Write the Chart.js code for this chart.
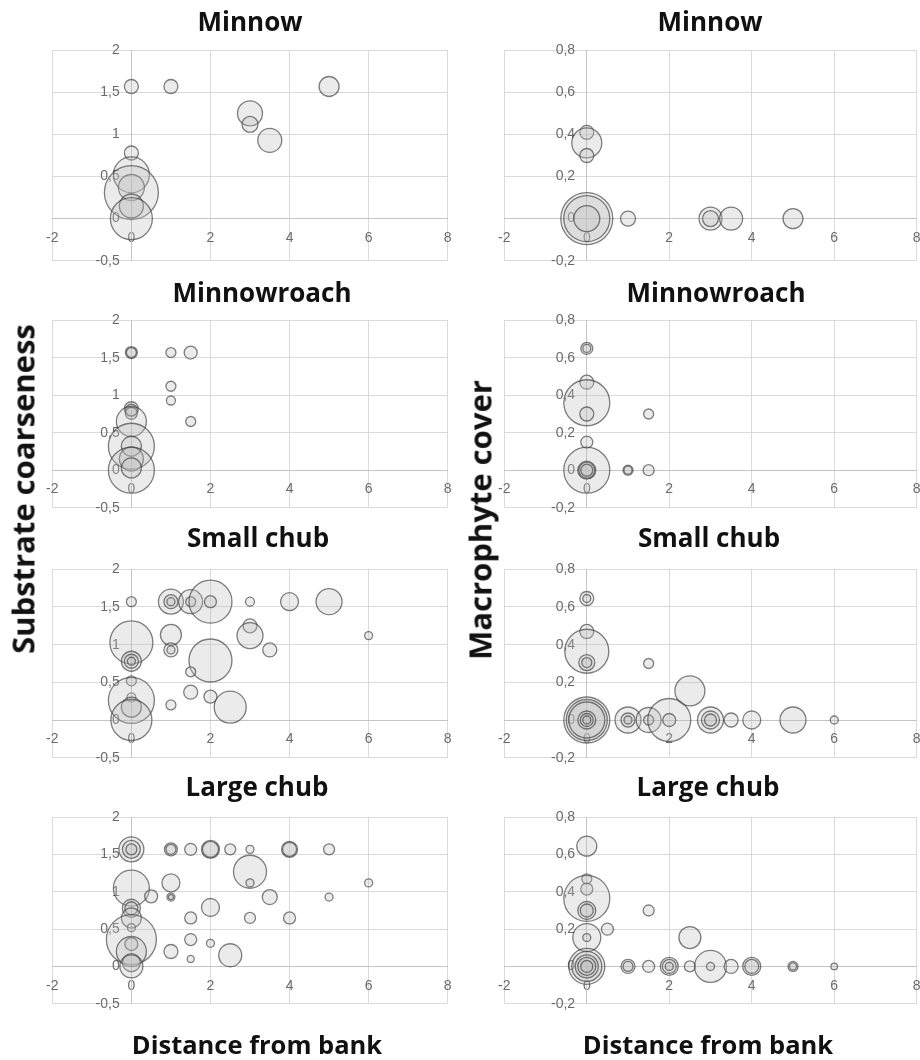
<!DOCTYPE html>
<html>
<head>
<meta charset="utf-8">
<script src="https://cdn.jsdelivr.net/npm/chart.js@4.4.1/dist/chart.umd.min.js"></script>
<style>
  body { margin: 0; background: #fff; }
  #fig { position: relative; width: 920px; height: 1060px; overflow: hidden; font-family: 'Open Sans', sans-serif; }
  .t { position: absolute; font-weight: 700; color: #111; white-space: nowrap; line-height: 1; }
  canvas { position: absolute; }
</style>
</head>
<body>
<div id="fig"></div>
<script>
const xTicks = [-2, 0, 2, 4, 6, 8];
const substrateTicks = [-0.5, 0, 0.5, 1, 1.5, 2];
const macroTicks = [-0.2, 0, 0.2, 0.4, 0.6, 0.8];
const species = ['Minnow', 'Minnowroach', 'Small chub', 'Large chub'];

// each point: [distance from bank, habitat value, bubble radius]
const minnowSubstrate = [[0,1.57,7],[1,1.57,7],[5,1.57,10],[3,1.25,12.5],[3,1.12,8],[3.5,0.93,12],
  [0,0.78,7],[0,0.52,18],[0,0.37,13],[0,0.31,27],[0,0.15,12],[0,0,21]];
const minnowMacro = [[0,0.41,7],[0,0.36,15],[0,0.3,7],[0,0,26],[0,0,23],[0,0,13],
  [1,0,7.5],[3,0,11.5],[3,0,8],[3.5,0,11.5],[5,0,10]];

const minnowroachSubstrate = [[0,1.57,6],[0,1.57,5],[1,1.57,5],[1.5,1.57,6.5],[1,1.12,5],[1,0.93,4.5],
  [1.5,0.65,5],[0,0.82,7],[0,0.8,6],[0,0.76,6],[0,0.65,15],[0,0.32,23],[0,0.32,10],[0,0.15,12],
  [0,0,23],[0,0.03,10]];
const minnowroachMacro = [[0,0.65,6],[0,0.65,4],[0,0.47,7],[0,0.36,23],[0,0.3,7],[1.5,0.3,5],[0,0.15,6],
  [0,0,23],[0,0,9],[0,0,8],[0,0,6],[1,0,5],[1,0,4],[1.5,0,5.5]];

const smallChubSubstrate = [[0,1.57,5],[1,1.57,12.5],[1,1.57,7],[1,1.57,4],[1.5,1.57,12],[1.5,1.57,5],
  [2,1.57,21.5],[2,1.57,6],[3,1.57,4.5],[4,1.57,9],[5,1.57,13],[0,1.03,21.5],[1,1.13,10.5],[1,0.93,7],
  [1,0.93,4],[3,1.25,7],[3,1.12,13],[3.5,0.93,7],[6,1.12,4],[2,0.79,21.5],[1.5,0.64,5],[0,0.78,10],
  [0,0.78,7],[0,0.78,4],[1.5,0.37,7],[2,0.31,6.5],[1,0.2,5],[2.5,0.17,16],[0,0.52,5],[0,0.3,4.5],
  [0,0.26,23],[0,0.17,10],[0,0,20.5]];
const smallChubMacro = [[0,0.645,7],[0,0.645,4],[0,0.47,7],[0,0.365,22],[0,0.305,8],[0,0.305,5],
  [1.5,0.3,5],[2.5,0.155,15],[0,0,23],[0,0,20.5],[0,0,18],[0,0,9],[0,0,6.5],[0,0,4],[1,0,13],[1,0,7],
  [1,0,4],[1.5,0,12.5],[1.5,0,5],[2,0,21.5],[2,0,6.5],[3,0,13],[3,0,9],[3,0,6],[3.5,0,7],[4,0,9],
  [5,0,13],[6,0,4]];

const largeChubSubstrate = [[0,1.57,12.5],[0,1.57,9],[0,1.57,5.5],[1,1.57,6.5],[1,1.57,5],[1.5,1.57,6],
  [2,1.57,9],[2,1.57,8],[2.5,1.57,5.5],[3,1.57,4],[4,1.57,8],[4,1.57,7],[5,1.57,5.5],[3,1.27,16.5],
  [3,1.12,4],[6,1.12,4],[1,1.12,9],[0,1.05,18],[0.5,0.94,6.5],[1,0.93,4],[1,0.93,2.5],[3.5,0.93,7.5],
  [5,0.93,4],[2,0.79,9],[1.5,0.65,6],[3,0.65,5.5],[4,0.65,6],[1.5,0.36,6],[2,0.31,4],[1,0.2,7],
  [1.5,0.1,3.5],[2.5,0.15,11.5],[0,0.78,9],[0,0.78,6.5],[0,0.65,10],[0,0.52,4],[0,0.36,25],
  [0,0.3,6.5],[0,0.2,15],[0,0.05,9],[0,0,11.5]];
const largeChubMacro = [[0,0.645,10],[0,0.47,5],[0,0.415,6],[0,0.365,23],[0,0.3,9],[0,0.3,6.5],
  [0.5,0.2,6],[0,0.155,14],[0,0.155,4],[1.5,0.3,5.5],[2.5,0.155,11],[0,0,18],[0,0,15],[0,0,11.5],
  [0,0,9],[0,0,6],[1,0,7],[1,0,5],[1.5,0,6],[2,0,9],[2,0,7],[2,0,4],[2.5,0,5.5],[3,0,16],[3,0,4],
  [3.5,0,7],[4,0,9],[4,0,7],[5,0,5],[5,0,3.5],[6,0,3.3]];

const substrateSets = [minnowSubstrate, minnowroachSubstrate, smallChubSubstrate, largeChubSubstrate];
const macroSets = [minnowMacro, minnowroachMacro, smallChubMacro, largeChubMacro];

// layout of the plot areas (pixels)
const rows = [[50, 260], [320, 507], [569, 757], [817, 1003]];
const cols = [[52, 447], [504, 916]];
const titleBase = [31, 302, 547, 796];
const titleX = [[250, 710], [262, 716], [258, 709], [257, 708]];

const fig = document.getElementById('fig');

function addText(txt, cx, base, size, rotate) {
  const d = document.createElement('div');
  d.className = 't';
  d.textContent = txt;
  d.style.fontSize = size + 'px';
  d.style.left = cx + 'px';
  if (rotate) {
    d.style.top = base + 'px';
    d.style.transform = 'translate(-50%, -50%) rotate(-90deg)';
  } else {
    d.style.top = (base - 0.888 * size) + 'px';
    d.style.transform = 'translateX(-50%)';
  }
  fig.appendChild(d);
}

const fmt = v => String(Math.round(v * 10) / 10).replace('.', ',');

function panelConfig(points, yTicks) {
  const tickFont = { family: 'Liberation Sans, Arial, sans-serif', size: 14 };
  return {
    type: 'bubble',
    data: {
      datasets: [{
        data: points.map(p => ({ x: p[0], y: p[1], r: p[2] })),
        backgroundColor: 'rgba(190, 190, 190, 0.3)',
        borderColor: 'rgba(60, 60, 60, 0.65)',
        borderWidth: 1.3
      }]
    },
    options: {
      responsive: false,
      animation: false,
      events: [],
      layout: { padding: 10 },
      plugins: { legend: { display: false }, tooltip: { enabled: false } },
      scales: {
        x: {
          type: 'linear',
          position: { y: 0 },
          min: xTicks[0],
          max: xTicks[xTicks.length - 1],
          afterBuildTicks: s => { s.ticks = xTicks.map(v => ({ value: v })); },
          ticks: { font: tickFont, color: '#6b6b6b', padding: 11, callback: fmt },
          grid: { color: '#dadada', drawTicks: false },
          border: { color: '#c4c4c4' }
        },
        y: {
          type: 'linear',
          position: { x: 0 },
          min: yTicks[0],
          max: yTicks[yTicks.length - 1],
          afterBuildTicks: s => { s.ticks = yTicks.map(v => ({ value: v })); },
          ticks: { font: tickFont, color: '#6b6b6b', padding: 8, callback: v => fmt(v) + '   ' },
          grid: { color: '#dadada', drawTicks: false },
          border: { color: '#c4c4c4' }
        }
      }
    }
  };
}

function makePanel(points, col, row, yTicks) {
  const [left, right] = cols[col];
  const [top, bottom] = rows[row];
  const c = document.createElement('canvas');
  c.width = right - left + 80;
  c.height = bottom - top + 80;
  fig.appendChild(c);

  // first pass: find how much room the library keeps around the plot area
  let chart = new Chart(c, panelConfig(points, yTicks));
  const a = chart.chartArea;
  const ml = a.left, mt = a.top;
  const mr = c.width - a.right, mb = c.height - a.bottom;
  chart.destroy();

  c.width = Math.round(right - left + ml + mr);
  c.height = Math.round(bottom - top + mt + mb);
  c.style.left = (left - ml) + 'px';
  c.style.top = (top - mt) + 'px';
  new Chart(c, panelConfig(points, yTicks));
}

for (let i = 0; i < species.length; i++) {
  makePanel(substrateSets[i], 0, i, substrateTicks);
  makePanel(macroSets[i], 1, i, macroTicks);
  addText(species[i], titleX[i][0], titleBase[i], 26, false);
  addText(species[i], titleX[i][1], titleBase[i], 26, false);
}

addText('Substrate coarseness', 23, 489, 31, true);
addText('Macrophyte cover', 480, 520, 31, true);
addText('Distance from bank', 257, 1055, 25.5, false);
addText('Distance from bank', 708, 1055, 25.5, false);
</script>
</body>
</html>
